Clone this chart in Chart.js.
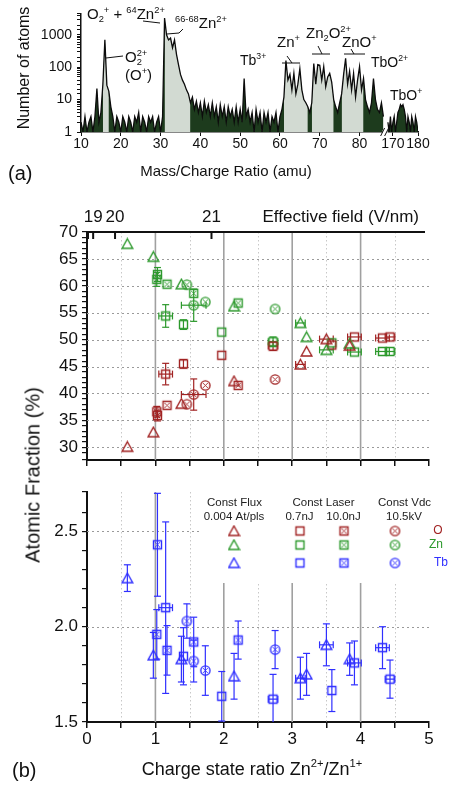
<!DOCTYPE html>
<html>
<head>
<meta charset="utf-8">
<script src="https://cdn.jsdelivr.net/npm/chart.js@4.4.1/dist/chart.umd.min.js"></script>
<style>
  html, body { margin: 0; padding: 0; background: #fff; }
  body { width: 450px; height: 785px; position: relative; overflow: hidden; font-family: Arial, "Liberation Sans", sans-serif; }
  canvas { position: absolute; left: 0; }
  #yTitleB { position: absolute; left: 33px; top: 475px; transform: translate(-50%, -50%) rotate(-90deg); font-size: 20px; white-space: nowrap; color: #111; }
</style>
</head>
<body>
<canvas id="spectrum" width="450" height="185" style="top:0"></canvas>
<canvas id="fraction" width="450" height="290" style="top:185px"></canvas>
<canvas id="terbium" width="450" height="310" style="top:475px"></canvas>
<div id="yTitleB">Atomic Fraction (%)</div>
<script>
// ---- (a) mass spectrum, 0.5 amu bins ----
const binWidth = 0.5;
const massStart1 = 10;   // first segment 10 .. 86 amu
const counts1 = [
  2, 1, 3, 1, 2, 3, 1, 3, 22, 2,
  4, 30, 710, 28, 18, 6, 3, 1, 3, 2,
  1, 3, 2, 1, 3, 2, 1, 3, 2, 4,
  1, 3, 2, 1, 3, 2, 3, 1, 2, 3,
  1, 3, 3300, 1000, 700, 800, 400, 700, 250, 120,
  60, 40, 30, 20, 15, 8, 12, 5, 9, 4,
  8, 3, 9, 4, 7, 3, 8, 3, 6, 2,
  7, 3, 6, 2, 6, 3, 5, 2, 6, 2,
  5, 2, 45, 3, 5, 2, 4, 1, 5, 2,
  4, 1, 4, 2, 4, 1, 3, 2, 4, 1,
  3, 5, 12, 160, 40, 60, 20, 65, 15, 30,
  90, 20, 10, 8, 6, 4, 8, 130, 30, 120,
  115, 40, 105, 25, 50, 65, 35, 10, 6, 4,
  8, 15, 60, 190, 30, 75, 20, 65, 12, 40,
  105, 20, 45, 10, 6, 4, 8, 45, 10, 5,
  4, 8, 3
];
const massStart2 = 168;  // second segment 168 .. 180 amu (after axis break)
const counts2 = [
  2, 1, 3, 1, 2, 3, 1, 2, 4, 5,
  7, 6, 7, 5, 3, 1, 3, 2, 1, 3,
  2, 1, 3, 2, 1
];
const massTicks = [10, 20, 30, 40, 50, 60, 70, 80, 170, 180];
const countLabels = [1, 10, 100, 1000];
const lightRegions = [[15.5, 17], [31, 37.5], [61, 67], [68, 73.5], [75.5, 81]];

// axis break: 86.5 amu ... 167 amu compressed
const breakFrom = 86.5, breakTo = 167, breakScale = 0.63;
function toAxis(m) { return m <= breakFrom ? m : breakFrom + (m - breakTo) * breakScale; }

// ---- (b) composition vs charge state ratio ----
// Const Flux 0.004 At/pls (triangles)
const fluxRatio    = [0.59, 0.97, 1.38, 2.15, 3.12, 3.21, 3.50, 3.84];
const fluxRatioErr = [0, 0, 0, 0, 0.07, 0.05, 0.10, 0.03];
const fluxO        = [30.1, 32.8, 38.1, 42.3, 45.4, 47.8, 50.1, 48.9];
const fluxOErr     = [0.5, 0.5, 0.4, 0.4, 0.6, 0.7, 0.6, 0.5];
const fluxZn       = [67.8, 65.4, 60.3, 56.2, 53.1, 50.5, 48.1, 49.3];
const fluxZnErr    = [0.5, 0.5, 0.4, 0.4, 0.6, 0.7, 0.6, 0.5];
const fluxTb       = [2.255, 1.85, 1.83, 1.74, 1.73, 1.75, 1.905, 1.83];
const fluxTbErr    = [0.07, 0.12, 0.12, 0.12, 0.11, 0.11, 0.11, 0.085];

// Const Laser 0.7nJ (open squares)
const lowLaserRatio    = [1.15, 1.41, 1.97, 2.72, 3.58, 3.91, 4.32, 4.43];
const lowLaserRatioErr = [0.10, 0.03, 0, 0.07, 0.05, 0.10, 0.10, 0.07];
const lowLaserO        = [43.6, 45.5, 47.1, 48.8, 49.0, 50.5, 50.3, 50.5];
const lowLaserOErr     = [2.0, 0.8, 0.4, 0.8, 0.6, 0.6, 0.5, 0.5];
const lowLaserZn       = [54.4, 52.8, 51.4, 49.6, 49.4, 47.7, 47.8, 47.8];
const lowLaserZnErr    = [2.1, 0.9, 0.4, 0.9, 0.6, 0.5, 0.5, 0.5];
const lowLaserTb       = [2.10, 1.845, 1.635, 1.62, 1.665, 1.81, 1.89, 1.725];
const lowLaserTbErr    = [0.45, 0.15, 0.13, 0.13, 0.11, 0.115, 0.11, 0.10];

// Const Laser 10.0nJ (crossed squares)
const highLaserRatio    = [1.02, 1.03, 1.17, 1.56, 2.21];
const highLaserRatioErr = [0.02, 0.03, 0.02, 0.02, 0.02];
const highLaserO        = [36.6, 35.9, 37.8, null, 41.5];
const highLaserOErr     = [1.0, 1.0, 0.4, 0, 0.4];
const highLaserZn       = [61.2, 62.1, 60.3, 58.6, 56.8];
const highLaserZnErr    = [1.3, 1.3, 0.4, 0.6, 0.4];
const highLaserTb       = [1.96, 2.43, 1.876, 1.92, 1.93];
const highLaserTbErr    = [0.13, 0.27, 0.13, 0.13, 0.10];

// Const Vdc 10.5kV (crossed circles)
const vdcRatio      = [1.46, 1.56, 1.73, 2.75];
const vdcRatioErr   = [0.03, 0.18, 0.02, 0.02];
const vdcO          = [38.0, 39.8, 41.5, 42.6];
const vdcOErr       = [0.4, 2.9, 0.5, 0.5];
const vdcZn         = [60.2, 56.4, 57.0, 55.7];
const vdcZnErr      = [0.4, 3.0, 0.5, 0.5];
const vdcTb         = [2.03, 1.82, 1.77, 1.88];
const vdcTbErr      = [0.09, 0.11, 0.13, 0.10];
const vdcTbRatioErr = [0.03, 0.03, 0.02, 0.02];

// top axis: effective field (V/nm) at charge state ratio positions
const fieldTickRatio  = [0.015, 0.09, 0.41, 1.82];
const fieldTickLabels = ['', '19', '20', '21'];

const fracGridY = [30, 35, 40, 45, 50, 55, 60, 65];
const tbGridY = [2.0, 2.5];
const ratioDotted = [0.5, 1.5, 2.5, 3.5, 4.5];
const ratioSolid = [1, 2, 3, 4];

const FONT = 'Arial, "Liberation Sans", sans-serif';
const RED = '#a12323', GREEN = '#2c992c', BLUE = '#2f2fff', INK = '#111';

Chart.defaults.font.family = FONT;
Chart.defaults.color = INK;
Chart.defaults.animation = false;
Chart.defaults.plugins.legend.display = false;
Chart.defaults.plugins.tooltip.enabled = false;

function marker(shape, color) {
  const c = document.createElement('canvas');
  c.width = 13; c.height = 13;
  const g = c.getContext('2d');
  g.strokeStyle = color;
  g.lineWidth = 1.4;
  g.beginPath();
  if (shape === 'tri') { g.moveTo(6.5, 1.5); g.lineTo(11.8, 11); g.lineTo(1.2, 11); g.closePath(); }
  else if (shape === 'circX') { g.arc(6.5, 6.5, 4.6, 0, Math.PI * 2); }
  else { g.rect(2.5, 2.5, 8, 8); }
  g.stroke();
  if (shape === 'sqX' || shape === 'circX') {
    g.lineWidth = 0.9;
    g.beginPath();
    const a = 4, b = 9;
    g.moveTo(a, a); g.lineTo(b, b); g.moveTo(b, a); g.lineTo(a, b);
    g.stroke();
  }
  return c;
}

const series = [
  {shape: 'tri', ratio: fluxRatio, ratioErr: fluxRatioErr, O: fluxO, OErr: fluxOErr, Zn: fluxZn, ZnErr: fluxZnErr, Tb: fluxTb, TbErr: fluxTbErr, TbRatioErr: fluxRatioErr},
  {shape: 'sq', ratio: lowLaserRatio, ratioErr: lowLaserRatioErr, O: lowLaserO, OErr: lowLaserOErr, Zn: lowLaserZn, ZnErr: lowLaserZnErr, Tb: lowLaserTb, TbErr: lowLaserTbErr, TbRatioErr: lowLaserRatioErr},
  {shape: 'sqX', ratio: highLaserRatio, ratioErr: highLaserRatioErr, O: highLaserO, OErr: highLaserOErr, Zn: highLaserZn, ZnErr: highLaserZnErr, Tb: highLaserTb, TbErr: highLaserTbErr, TbRatioErr: highLaserRatioErr},
  {shape: 'circX', ratio: vdcRatio, ratioErr: vdcRatioErr, O: vdcO, OErr: vdcOErr, Zn: vdcZn, ZnErr: vdcZnErr, Tb: vdcTb, TbErr: vdcTbErr, TbRatioErr: vdcTbRatioErr}
];

function pts(xs, xe, ys, ye) {
  return xs.map((x, i) => ({x: x, y: ys[i], ex: xe[i], ey: ye[i]})).filter(p => p.y != null);
}

function scatterSet(data, shape, color) {
  return {type: 'scatter', data: data, pointStyle: marker(shape, color), pointRadius: 5, borderColor: color, backgroundColor: color, showLine: false};
}

function line(ctx, x1, y1, x2, y2) { ctx.beginPath(); ctx.moveTo(x1, y1); ctx.lineTo(x2, y2); ctx.stroke(); }

// text with sub/superscripts: parts = [text, kind], kind '', 'sup', 'sub', 'subStack'
function richText(ctx, x, y, parts, size, align) {
  const small = size * 0.62;
  let w = 0;
  const items = [];
  parts.forEach(([t, k]) => {
    const fs = k ? small : size;
    ctx.font = fs + 'px ' + FONT;
    const tw = ctx.measureText(t).width;
    const dy = k === 'sup' ? -size * 0.42 : (k === 'sub' || k === 'subStack') ? size * 0.22 : 0;
    items.push({t: t, fs: fs, dx: w, dy: dy});
    if (k !== 'subStack') w += tw;
  });
  const x0 = align === 'center' ? x - w / 2 : align === 'right' ? x - w : x;
  ctx.textAlign = 'left';
  ctx.textBaseline = 'alphabetic';
  items.forEach(it => { ctx.font = it.fs + 'px ' + FONT; ctx.fillText(it.t, x0 + it.dx, y + it.dy); });
}

// ---------- panel (a) ----------
const seg1 = counts1.map((c, i) => ({x: toAxis(massStart1 + i * binWidth), y: c}));
const seg2 = counts2.map((c, i) => ({x: toAxis(massStart2 + i * binWidth), y: c}));
const spectrumPts = seg1.concat([{x: toAxis(86.5), y: null}], seg2);
const massOf = [];
counts1.forEach((c, i) => massOf.push(massStart1 + i * binWidth));
massOf.push(null);
counts2.forEach((c, i) => massOf.push(massStart2 + i * binWidth));
const lightPts = spectrumPts.map((p, i) => {
  const m = massOf[i];
  const inside = m != null && lightRegions.some(r => m >= r[0] && m <= r[1]);
  return {x: p.x, y: inside ? p.y : null};
});

const spectrumNotes = {
  id: 'spectrumNotes',
  afterDraw(chart) {
    const {ctx, scales: {x}} = chart;
    ctx.save();
    ctx.fillStyle = INK;
    ctx.strokeStyle = INK;
    ctx.lineWidth = 1;
    // axis break marks
    const bx = x.getPixelForValue(86.3), by = x.top;
    ctx.fillStyle = '#fff';
    ctx.fillRect(bx - 2, by - 2, 5, 4);
    ctx.fillStyle = INK;
    line(ctx, bx - 4, by + 4, bx, by - 4);
    line(ctx, bx, by + 4, bx + 4, by - 4);

    richText(ctx, 87, 19, [['O', ''], ['2', 'sub'], ['+', 'sup'], [' + ', ''], ['64', 'sup'], ['Zn', ''], ['2+', 'sup']], 15, 'left');
    line(ctx, 143, 21, 160, 23);
    richText(ctx, 175, 28, [['66-68', 'sup'], ['Zn', ''], ['2+', 'sup']], 15, 'left');
    line(ctx, 167, 34, 179, 33); line(ctx, 179, 33, 183, 29);
    richText(ctx, 125, 62, [['O', ''], ['2', 'subStack'], ['2+', 'sup']], 15, 'left');
    line(ctx, 106, 58, 123, 56);
    richText(ctx, 125, 80, [['(O', ''], ['+', 'sup'], [')', '']], 15, 'left');
    richText(ctx, 240, 65, [['Tb', ''], ['3+', 'sup']], 14, 'left');
    richText(ctx, 277, 47, [['Zn', ''], ['+', 'sup']], 15, 'left');
    line(ctx, 282, 63, 300, 63); line(ctx, 287, 56, 292, 63);
    richText(ctx, 306, 38, [['Zn', ''], ['2', 'sub'], ['O', ''], ['2+', 'sup']], 15, 'left');
    line(ctx, 312, 54, 330, 54); line(ctx, 318, 46, 322, 54);
    richText(ctx, 342, 47, [['ZnO', ''], ['+', 'sup']], 15, 'left');
    line(ctx, 344, 54, 365, 54); line(ctx, 351, 49, 354, 54);
    richText(ctx, 371, 67, [['TbO', ''], ['2+', 'sup']], 14, 'left');
    richText(ctx, 390, 100, [['TbO', ''], ['+', 'sup']], 14, 'left');

    ctx.font = '15px ' + FONT;
    ctx.textAlign = 'center';
    ctx.fillText('Mass/Charge Ratio (amu)', 226, 176);
    ctx.font = '20px ' + FONT;
    ctx.textAlign = 'left';
    ctx.fillText('(a)', 8, 180);
    ctx.translate(23, 68);
    ctx.rotate(-Math.PI / 2);
    ctx.font = '16px ' + FONT;
    ctx.textAlign = 'center';
    ctx.fillText('Number of atoms', 0, 6);
    ctx.restore();
  }
};

new Chart(document.getElementById('spectrum'), {
  type: 'line',
  data: {
    datasets: [
      {data: spectrumPts, borderWidth: 0, pointRadius: 0, fill: 'start', backgroundColor: '#1d3b1d', spanGaps: false, order: 3},
      {data: lightPts, borderWidth: 0, pointRadius: 0, fill: 'start', backgroundColor: '#d2dad2', spanGaps: false, order: 2},
      {data: spectrumPts, borderColor: '#0c0c0c', borderWidth: 1.3, pointRadius: 0, fill: false, spanGaps: false, order: 1}
    ]
  },
  options: {
    responsive: false,
    devicePixelRatio: 1,
    layout: {padding: {top: 10, right: 32, left: 0, bottom: 0}},
    scales: {
      x: {
        type: 'linear', min: 10, max: toAxis(180),
        afterBuildTicks: s => { s.ticks = massTicks.map(m => ({value: toAxis(m)})); },
        afterFit: s => { s.height = 53; },
        ticks: {autoSkip: false, maxRotation: 0, padding: 0, font: {size: 14}, callback: (v, i) => massTicks[i]},
        grid: {drawOnChartArea: false, tickLength: 4, color: INK},
        border: {color: INK, width: 1.5}
      },
      y: {
        type: 'logarithmic', min: 1, max: 4600,
        afterFit: s => { s.width = 81; },
        ticks: {autoSkip: false, padding: 5, font: {size: 14}, callback: v => countLabels.includes(v) ? String(v) : ''},
        grid: {drawOnChartArea: false, tickLength: 4, color: INK},
        border: {color: INK, width: 1.5}
      }
    }
  },
  plugins: [spectrumNotes]
});

// ---------- shared plugins for panel (b) ----------
function gridLines(hDotted) {
  return {
    id: 'gridLines',
    beforeDatasetsDraw(chart) {
      const {ctx, chartArea: a, scales: {x, y}} = chart;
      ctx.save();
      ctx.lineWidth = 1;
      ctx.strokeStyle = '#9a9a9a';
      ctx.setLineDash([2, 3]);
      hDotted.forEach(v => { const py = Math.round(y.getPixelForValue(v)) + 0.5; line(ctx, a.left, py, a.right, py); });
      ctx.strokeStyle = '#c8c8c8';
      ctx.setLineDash([1.5, 2.5]);
      ratioDotted.forEach(v => { const px = Math.round(x.getPixelForValue(v)) + 0.5; line(ctx, px, a.top, px, a.bottom); });
      ctx.setLineDash([]);
      ctx.strokeStyle = '#a0a0a0';
      ctx.lineWidth = 1.6;
      ratioSolid.forEach(v => { const px = x.getPixelForValue(v); line(ctx, px, a.top, px, a.bottom); });
      ctx.restore();
    }
  };
}

const errorBars = {
  id: 'errorBars',
  beforeDatasetsDraw(chart) {
    const {ctx, chartArea: a, scales: {x, y}} = chart;
    ctx.save();
    ctx.beginPath();
    ctx.rect(a.left, a.top - 1, a.right - a.left, a.bottom - a.top + 1);
    ctx.clip();
    ctx.lineWidth = 1.2;
    chart.data.datasets.forEach(ds => {
      ctx.strokeStyle = ds.borderColor;
      ds.data.forEach(p => {
        const px = x.getPixelForValue(p.x), py = y.getPixelForValue(p.y);
        if (p.ey > 0) {
          const y1 = y.getPixelForValue(p.y + p.ey), y2 = y.getPixelForValue(p.y - p.ey);
          if (y2 - y1 > 8) {
            line(ctx, px, y1, px, y2);
            line(ctx, px - 3.5, y1, px + 3.5, y1);
            line(ctx, px - 3.5, y2, px + 3.5, y2);
          }
        }
        if (p.ex > 0) {
          const x1 = x.getPixelForValue(p.x - p.ex), x2 = x.getPixelForValue(p.x + p.ex);
          if (x2 - x1 > 9) {
            line(ctx, x1, py, x2, py);
            line(ctx, x1, py - 3.5, x1, py + 3.5);
            line(ctx, x2, py - 3.5, x2, py + 3.5);
          }
        }
      });
    });
    ctx.restore();
  }
};

function ratioAxis(height, labelled) {
  return {
    type: 'linear', min: 0, max: 5,
    afterFit: s => { s.height = height; },
    ticks: {stepSize: 0.5, autoSkip: false, maxRotation: 0, padding: 1, font: {size: 17},
      callback: v => labelled && Number.isInteger(v) ? String(v) : ''},
    grid: {drawOnChartArea: false, tickLength: 6, color: INK, lineWidth: 1.5},
    border: {color: INK, width: 2}
  };
}

// ---------- panel (b) top: O and Zn ----------
const fieldAxis = {
  id: 'fieldAxis',
  afterDraw(chart) {
    const {ctx, chartArea: a, scales: {x}} = chart;
    ctx.save();
    ctx.strokeStyle = INK;
    ctx.lineWidth = 2;
    line(ctx, a.left, a.top, a.right - 4, a.top);
    fieldTickRatio.forEach(v => { const px = x.getPixelForValue(v); line(ctx, px, a.top, px, a.top + 7); });
    ctx.fillStyle = INK;
    ctx.font = '17px ' + FONT;
    ctx.textAlign = 'center';
    ctx.textBaseline = 'alphabetic';
    fieldTickRatio.forEach((v, i) => ctx.fillText(fieldTickLabels[i], x.getPixelForValue(v), a.top - 10));
    ctx.textAlign = 'right';
    ctx.fillText('Effective field (V/nm)', a.right - 10, a.top - 10);
    ctx.restore();
  }
};

const fracSets = [];
series.forEach(s => {
  fracSets.push(scatterSet(pts(s.ratio, s.ratioErr, s.O, s.OErr), s.shape, RED));
  fracSets.push(scatterSet(pts(s.ratio, s.ratioErr, s.Zn, s.ZnErr), s.shape, GREEN));
});

new Chart(document.getElementById('fraction'), {
  type: 'scatter',
  data: {datasets: fracSets},
  options: {
    responsive: false,
    devicePixelRatio: 1,
    layout: {padding: {top: 47, right: 21, left: 0, bottom: 0}},
    scales: {
      x: ratioAxis(15, false),
      y: {
        type: 'linear', min: 27.64, max: 70,
        afterFit: s => { s.width = 87; },
        ticks: {stepSize: 1, autoSkip: false, padding: 4, font: {size: 17}, callback: v => (Math.abs(v % 5) < 1e-6 ? String(v) : '')},
        grid: {drawOnChartArea: false, tickLength: 5, color: INK, lineWidth: 1.2},
        border: {color: INK, width: 2}
      }
    }
  },
  plugins: [gridLines(fracGridY), errorBars, fieldAxis]
});

// ---------- panel (b) bottom: Tb ----------
const seriesKey = {
  id: 'seriesKey',
  beforeDatasetsDraw(chart) {
    const {ctx, chartArea: a} = chart;
    ctx.save();
    ctx.fillStyle = '#fff';
    ctx.fillRect(200, a.top, a.right - 200 + 2, 108 - a.top);
    ctx.fillStyle = '#222';
    ctx.font = '11.5px ' + FONT;
    ctx.textAlign = 'center';
    ctx.textBaseline = 'middle';
    [['Const Flux', 234.5, 28], ['0.004 At/pls', 234, 42], ['Const Laser', 323.5, 28], ['0.7nJ', 299.5, 42],
     ['10.0nJ', 343.5, 42], ['Const Vdc', 404.5, 28], ['10.5kV', 404, 42]].forEach(([t, x, y]) => ctx.fillText(t, x, y));
    const cols = [234, 300, 344, 395];
    [[RED, 56, 'O', 438], [GREEN, 70, 'Zn', 436], [BLUE, 88, 'Tb', 441]].forEach(([col, y, lab, lx]) => {
      series.forEach((s, i) => ctx.drawImage(marker(s.shape, col), cols[i] - 6.5, y - 6.5));
      ctx.fillStyle = col;
      ctx.font = '12px ' + FONT;
      ctx.fillText(lab, lx, y);
    });
    ctx.restore();
  }
};

const tbTitles = {
  id: 'tbTitles',
  afterDraw(chart) {
    const {ctx} = chart;
    ctx.save();
    ctx.fillStyle = INK;
    richText(ctx, 252, 300, [['Charge state ratio Zn', ''], ['2+', 'sup'], ['/Zn', ''], ['1+', 'sup']], 18, 'center');
    ctx.font = '20px ' + FONT;
    ctx.fillText('(b)', 12, 302);
    ctx.restore();
  }
};

new Chart(document.getElementById('terbium'), {
  type: 'scatter',
  data: {datasets: series.map(s => scatterSet(pts(s.ratio, s.TbRatioErr, s.Tb, s.TbErr), s.shape, BLUE))},
  options: {
    responsive: false,
    devicePixelRatio: 1,
    layout: {padding: {top: 17, right: 21, left: 0, bottom: 0}},
    scales: {
      x: ratioAxis(63, true),
      y: {
        type: 'linear', min: 1.5, max: 2.707,
        afterFit: s => { s.width = 87; },
        ticks: {stepSize: 0.1, autoSkip: false, padding: 4, font: {size: 17},
          callback: v => (Math.abs(v * 2 - Math.round(v * 2)) < 1e-6 ? v.toFixed(1) : '')},
        grid: {drawOnChartArea: false, tickLength: 5, color: INK, lineWidth: 1.2},
        border: {color: INK, width: 2}
      }
    }
  },
  plugins: [gridLines(tbGridY), seriesKey, errorBars, tbTitles]
});
</script>
</body>
</html>
